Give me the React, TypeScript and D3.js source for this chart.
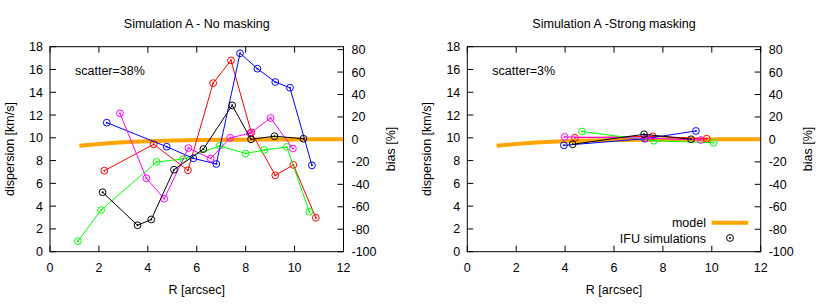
import React from "react";
import * as d3 from "d3";

// series: radius [arcsec] and dispersion [km/s]
const seriesColors = ["#ff0000", "#00ff00", "#0000ff", "#ff00ff", "#000000"];

// Simulation A - No masking
const redA_r = [2.22, 4.24, 5.64, 6.67, 7.4, 8.23, 9.21, 9.95, 10.87];
const redA_s = [7.11, 9.43, 7.15, 14.8, 16.8, 10.48, 6.71, 7.62, 2.98];
const greenA_r = [1.14, 2.09, 4.36, 5.45, 6.94, 8.0, 8.76, 9.68, 10.6];
const greenA_s = [0.92, 3.66, 7.88, 8.14, 9.3, 8.62, 8.93, 9.2, 3.51];
const blueA_r = [2.32, 4.77, 5.86, 6.8, 7.77, 8.48, 9.21, 9.81, 10.71];
const blueA_s = [11.33, 9.22, 8.2, 7.7, 17.42, 16.07, 14.9, 14.4, 7.58];
const magentaA_r = [2.86, 3.94, 4.67, 5.66, 6.57, 7.37, 8.18, 9.02, 9.93];
const magentaA_s = [12.15, 6.45, 4.65, 9.1, 8.18, 10.0, 10.4, 11.74, 9.06];
const blackA_r = [2.15, 3.58, 4.14, 5.07, 6.27, 7.45, 8.22, 9.18, 10.36];
const blackA_s = [5.22, 2.32, 2.83, 7.2, 9.01, 12.85, 9.87, 10.14, 9.92];

// Simulation A - Strong masking
const redB_r = [4.4, 7.58, 9.79];
const redB_s = [10.01, 10.13, 9.92];
const greenB_r = [4.69, 7.63, 10.07];
const greenB_s = [10.55, 9.74, 9.57];
const blueB_r = [3.95, 7.26, 9.35];
const blueB_s = [9.34, 9.92, 10.6];
const magentaB_r = [3.98, 7.3, 9.55];
const magentaB_s = [10.08, 9.97, 9.81];
const blackB_r = [4.31, 7.23, 9.15];
const blackB_s = [9.43, 10.31, 9.87];

// model curve
const modelR = [1.2, 2, 3, 4, 5, 6, 7, 8, 9, 10, 11, 12];
const modelS = [9.3, 9.45, 9.6, 9.7, 9.76, 9.8, 9.82, 9.84, 9.85, 9.86, 9.87, 9.87];

const xTicks = [0, 2, 4, 6, 8, 10, 12];
const yTicks = [0, 2, 4, 6, 8, 10, 12, 14, 16, 18];
const y2Ticks = [-100, -80, -60, -40, -20, 0, 20, 40, 60, 80];

const zip = (xs: number[], ys: number[]) => xs.map((x, i) => [x, ys[i]] as [number, number]);

const seriesA = [
  zip(redA_r, redA_s),
  zip(greenA_r, greenA_s),
  zip(blueA_r, blueA_s),
  zip(magentaA_r, magentaA_s),
  zip(blackA_r, blackA_s),
];
const seriesB = [
  zip(redB_r, redB_s),
  zip(greenB_r, greenB_s),
  zip(blueB_r, blueB_s),
  zip(magentaB_r, magentaB_s),
  zip(blackB_r, blackB_s),
];

const font = "'Liberation Sans', Arial, sans-serif";
const top = 46.7;
const bottom = 251.7;
const tick = 6;

const Marker = ({ cx, cy, color }: { cx: number; cy: number; color: string }) => (
  <g>
    <circle cx={cx} cy={cy} r={3.4} fill="none" stroke={color} strokeWidth={1} />
    <circle cx={cx} cy={cy} r={1} fill={color} />
  </g>
);

const Panel = ({
  left,
  right,
  title,
  scatter,
  series,
  legend,
}: {
  left: number;
  right: number;
  title: string;
  scatter: string;
  series: [number, number][][];
  legend?: boolean;
}) => {
  const x = d3.scaleLinear().domain([0, 12]).range([left, right]);
  const y = d3.scaleLinear().domain([0, 18]).range([bottom, top]);
  // bias relative to the model asymptote
  const y2 = d3.scaleLinear().domain([-100, 82.6]).range([bottom, top]);
  const line = d3
    .line<[number, number]>()
    .x((d) => x(d[0]))
    .y((d) => y(d[1]));
  const modelLine = d3
    .line<[number, number]>()
    .x((d) => x(d[0]))
    .y((d) => y(d[1]))
    .curve(d3.curveMonotoneX);
  const cx = (left + right) / 2;

  return (
    <g fontFamily={font} fontSize={12.5} fill="#000">
      <text x={cx} y={27.5} textAnchor="middle">
        {title}
      </text>

      {/* ticks */}
      {xTicks.map((t) => (
        <g key={"x" + t}>
          <line x1={x(t)} x2={x(t)} y1={bottom} y2={bottom - tick} stroke="#000" />
          <line x1={x(t)} x2={x(t)} y1={top} y2={top + tick} stroke="#000" />
          <text x={x(t)} y={271.5} textAnchor="middle">
            {t}
          </text>
        </g>
      ))}
      {yTicks.map((t) => (
        <g key={"y" + t}>
          <line x1={left} x2={left + tick} y1={y(t)} y2={y(t)} stroke="#000" />
          <text x={left - 7} y={y(t) + 4.5} textAnchor="end">
            {t}
          </text>
        </g>
      ))}
      {y2Ticks.map((t) => (
        <g key={"y2" + t}>
          <line x1={right} x2={right - tick} y1={y2(t)} y2={y2(t)} stroke="#000" />
          <text x={right + 8} y={y2(t) + 4.5} textAnchor="start">
            {t}
          </text>
        </g>
      ))}

      <text x={cx} y={293.5} textAnchor="middle">
        R [arcsec]
      </text>
      <text transform={`translate(${left - 36},149) rotate(-90)`} textAnchor="middle">
        dispersion [km/s]
      </text>
      <text transform={`translate(${right + 51},149) rotate(-90)`} textAnchor="middle">
        bias [%]
      </text>

      <text x={left + 25} y={75}>
        {scatter}
      </text>

      {/* model */}
      <path d={modelLine(zip(modelR, modelS)) || ""} fill="none" stroke="#ffa500" strokeWidth={4} />

      {series.map((s, i) => (
        <g key={"s" + i}>
          <path d={line(s) || ""} fill="none" stroke={seriesColors[i]} strokeWidth={1} />
          {s.map((d, j) => (
            <Marker key={j} cx={x(d[0])} cy={y(d[1])} color={seriesColors[i]} />
          ))}
        </g>
      ))}

      {legend && (
        <g>
          <text x={706} y={227.2} textAnchor="end">
            model
          </text>
          <line x1={711.7} x2={748.3} y1={222.7} y2={222.7} stroke="#ffa500" strokeWidth={4} />
          <text x={706} y={242.5} textAnchor="end">
            IFU simulations
          </text>
          <Marker cx={730} cy={238} color="#000" />
        </g>
      )}

      <rect
        x={left}
        y={top}
        width={right - left}
        height={bottom - top}
        fill="none"
        stroke="#000"
        strokeWidth={1}
      />
    </g>
  );
};

export default function App() {
  return (
    <svg
      width={830}
      height={304}
      style={{ position: "absolute", left: 0, top: 0, background: "#fff" }}
    >
      <rect width={830} height={304} fill="#fff" />
      <Panel left={50} right={343.5} title="Simulation A - No masking" scatter="scatter=38%" series={seriesA} />
      <Panel
        left={467.3}
        right={760.7}
        title="Simulation A -Strong masking"
        scatter="scatter=3%"
        series={seriesB}
        legend
      />
    </svg>
  );
}
